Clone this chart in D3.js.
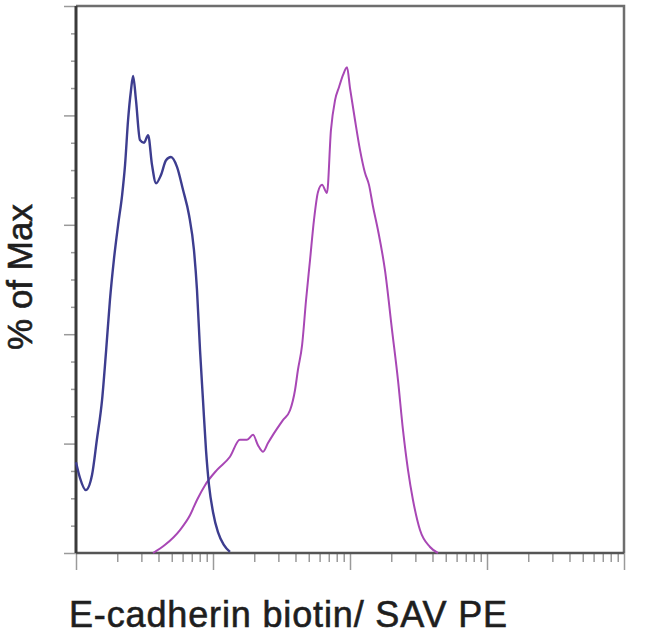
<!DOCTYPE html>
<html>
<head>
<meta charset="utf-8">
<script src="https://cdn.jsdelivr.net/npm/d3@7"></script>
<style>
  body { margin: 0; background: #fff; }
  text { font-family: "Liberation Sans", Arial, sans-serif; }
</style>
</head>
<body>
<svg id="chart" width="650" height="634"></svg>
<script>
// fluorescence intensity (log axis) and % of max
const isoX = [10, 10.7, 11.8, 13.1, 14.2, 15.5, 16.6, 17.7, 18.9, 20.3, 21.7, 22.8, 24.0, 25.2, 26.1, 27.4, 29.3, 31.4, 33.6, 35.9, 38.4, 41.7, 45.4, 49.3, 54.6, 60.4, 66.8, 72.6, 76.4, 80.4, 84.5, 88.9, 93.5, 100, 108.7, 120, 133];
const isoY = [16.6, 13.7, 11.5, 14.3, 20.7, 28.0, 37.1, 46.3, 53.6, 60.0, 65.4, 70.9, 79.2, 84.6, 87.2, 82.8, 75.5, 75.0, 76.4, 70.9, 67.6, 69.1, 71.8, 72.4, 70.6, 66.4, 61.8, 55.4, 48.1, 37.1, 28.0, 18.8, 12.4, 7.5, 3.8, 1.5, 0.2];

const stainX = [36.5, 44.7, 57.4, 67.9, 76.4, 87.5, 107, 133, 157, 177, 196, 213, 232, 252, 274, 324, 365, 397, 417, 447, 478, 511, 546, 584, 625, 679, 726, 778, 832, 890, 951, 1000, 1087, 1183, 1286, 1376, 1473, 1601, 1800, 2026, 2240, 2436, 2650, 2882, 3243, 3838, 4385];
const stainY = [0, 1.5, 4.2, 6.9, 9.7, 12.4, 15.2, 17.6, 20.7, 20.7, 21.6, 19.7, 18.5, 20.1, 21.6, 24.3, 26.1, 29.8, 33.5, 38.0, 46.3, 53.6, 60.9, 66.0, 67.3, 65.8, 77.3, 82.8, 85.2, 87.4, 88.8, 85.0, 79.2, 73.7, 69.5, 67.3, 63.3, 59.0, 51.7, 40.8, 31.6, 22.5, 15.2, 9.7, 4.2, 1.1, 0];

const xLabel = "E-cadherin biotin/ SAV PE";
const yLabel = "% of Max";

const svg = d3.select("#chart");
const width = 650, height = 634;
const margin = { top: 6, right: 26, bottom: 81, left: 76 };

let xScale = d3.scaleLog()
  .domain([10, 100000])
  .range([margin.left, width - margin.right]);

let yScale = d3.scaleLinear()
  .domain([0, 100])
  .range([height - margin.bottom, margin.top]);

// frame (top + right, lighter)
svg.append("path")
  .attr("d", `M${margin.left},${margin.top} H${width - margin.right} V${height - margin.bottom}`)
  .attr("fill", "none")
  .attr("stroke", "#6e6e6e")
  .attr("stroke-width", 2.5);

// x ticks: decades long, 2..9 short
let decades = [10, 100, 1000, 10000, 100000];
let minorX = [];
decades.slice(0, 4).forEach(d => { for (let k = 2; k <= 9; k++) minorX.push(d * k); });

let xAxisMajor = svg.append("g")
  .attr("transform", `translate(0,${height - margin.bottom})`)
  .call(d3.axisBottom(xScale).tickValues(decades).tickSize(17).tickFormat(""));
let xAxisMinor = svg.append("g")
  .attr("transform", `translate(0,${height - margin.bottom})`)
  .call(d3.axisBottom(xScale).tickValues(minorX).tickSize(9).tickFormat(""));

// y ticks: every 20 long, every 5 short
let majorY = d3.range(0, 101, 20);
let minorY = d3.range(0, 101, 5).filter(v => v % 20 !== 0);
let yAxisMajor = svg.append("g")
  .attr("transform", `translate(${margin.left},0)`)
  .call(d3.axisLeft(yScale).tickValues(majorY).tickSize(12).tickFormat(""));
let yAxisMinor = svg.append("g")
  .attr("transform", `translate(${margin.left},0)`)
  .call(d3.axisLeft(yScale).tickValues(minorY).tickSize(5).tickFormat(""));

[xAxisMajor, xAxisMinor, yAxisMajor, yAxisMinor].forEach(g => {
  g.select(".domain").remove();
  g.selectAll(".tick line").attr("stroke", "#9a9a9a").attr("stroke-width", 1.5);
});

// bottom + left axis lines (darker)
svg.append("line")
  .attr("x1", margin.left).attr("x2", width - margin.right)
  .attr("y1", height - margin.bottom).attr("y2", height - margin.bottom)
  .attr("stroke", "#555").attr("stroke-width", 2.5);
svg.append("line")
  .attr("x1", margin.left).attr("x2", margin.left)
  .attr("y1", margin.top).attr("y2", height - margin.bottom)
  .attr("stroke", "#3a3a3a").attr("stroke-width", 3);

// histograms
let line = d3.line()
  .x(d => xScale(d[0]))
  .y(d => yScale(d[1]))
  .curve(d3.curveMonotoneX);

svg.append("path")
  .datum(stainX.map((v, i) => [v, stainY[i]]))
  .attr("d", line)
  .attr("fill", "none")
  .attr("stroke", "#a847b5")
  .attr("stroke-width", 2);

svg.append("path")
  .datum(isoX.map((v, i) => [v, isoY[i]]))
  .attr("d", line)
  .attr("fill", "none")
  .attr("stroke", "#3d3d8f")
  .attr("stroke-width", 2.4);

// axis titles
svg.append("text")
  .attr("x", 69)
  .attr("y", 627)
  .attr("fill", "#1e1e1e")
  .attr("stroke", "#1e1e1e")
  .attr("stroke-width", 0.6)
  .attr("textLength", 438)
  .style("font-size", "36px")
  .text(xLabel);

svg.append("text")
  .attr("transform", "translate(32,277) rotate(-90)")
  .attr("text-anchor", "middle")
  .attr("fill", "#1e1e1e")
  .attr("stroke", "#1e1e1e")
  .attr("stroke-width", 0.6)
  .style("font-size", "35px")
  .text(yLabel);
</script>
</body>
</html>
